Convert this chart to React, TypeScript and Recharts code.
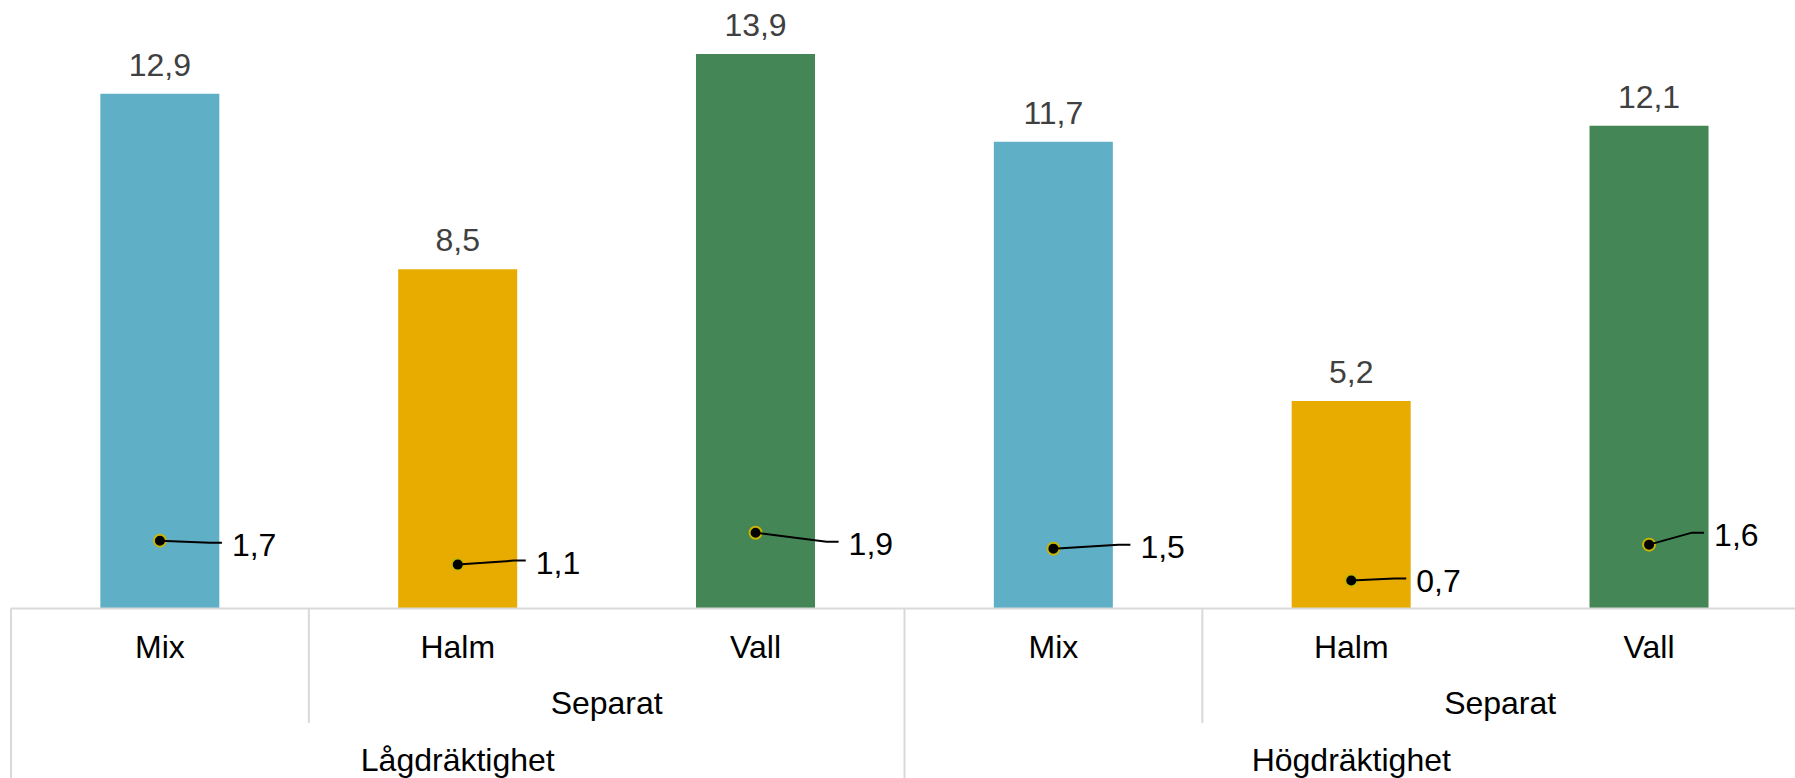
import { ComposedChart, Bar, Line, XAxis, YAxis, Cell, LabelList } from 'recharts'

const CATEGORIES = ['Mix', 'Halm', 'Vall', 'Mix', 'Halm', 'Vall']
const SUBGROUPS = ['', 'Separat', 'Separat', '', 'Separat', 'Separat']
const GROUPS = [
  'Lågdräktighet',
  'Lågdräktighet',
  'Lågdräktighet',
  'Högdräktighet',
  'Högdräktighet',
  'Högdräktighet',
]
const BAR_VALUES = [12.9, 8.5, 13.9, 11.7, 5.2, 12.1]
const POINT_VALUES = [1.7, 1.1, 1.9, 1.5, 0.7, 1.6]

const FEED_COLOR: Record<string, string> = {
  Mix: '#5FAFC6',
  Halm: '#E8AC00',
  Vall: '#448655',
}

// end of each point's leader line, relative to the dot
const LABEL_NUDGE: [number, number][] = [
  [62, 2],
  [68, -4],
  [83, 9],
  [77, -4],
  [55, -2],
  [55, -12],
]

const FONT = '"Liberation Sans", Arial, sans-serif'
const AXIS_HEIGHT = 169.5
const ROW_1 = 38.4
const ROW_2 = 94.7
const ROW_3 = 151.7
const SUB_BOTTOM = 114.4
const GRID = '#D9D9D9'

const rows = CATEGORIES.map((name, i) => ({
  name,
  amount: BAR_VALUES[i],
  point: POINT_VALUES[i],
}))

const fmt = (v: number) => Number(v).toFixed(1).replace('.', ',')

// how many neighbouring columns share the same label (within one group)
function spanLength(list: string[], i: number) {
  let n = 1
  while (i + n < list.length && list[i + n] === list[i] && GROUPS[i + n] === GROUPS[i]) n++
  return n
}

function CategoryTick(props: any) {
  const { x, y, payload } = props
  const i: number = props.index ?? payload.index
  const half: number = payload.offset
  const left = x - half
  const newGroup = i === 0 || GROUPS[i] !== GROUPS[i - 1]
  const newSub = newGroup || SUBGROUPS[i] !== SUBGROUPS[i - 1]
  const isLast = i === CATEGORIES.length - 1

  const subSpan = spanLength(SUBGROUPS, i)
  const groupSpan = spanLength(GROUPS, i)

  return (
    <g fontFamily={FONT} fontSize={32} fill="#000">
      {newGroup && <line x1={left} x2={left} y1={y} y2={y + AXIS_HEIGHT} stroke={GRID} strokeWidth={2} />}
      {!newGroup && newSub && (
        <line x1={left} x2={left} y1={y} y2={y + SUB_BOTTOM} stroke={GRID} strokeWidth={2} />
      )}
      {isLast && (
        <line x1={x + half} x2={x + half} y1={y} y2={y + AXIS_HEIGHT} stroke={GRID} strokeWidth={2} />
      )}
      <text x={x} y={y + ROW_1} textAnchor="middle" dominantBaseline="central">
        {CATEGORIES[i]}
      </text>
      {newSub && SUBGROUPS[i] && (
        <text x={x + (subSpan - 1) * half} y={y + ROW_2} textAnchor="middle" dominantBaseline="central">
          {SUBGROUPS[i]}
        </text>
      )}
      {newGroup && (
        <text x={x + (groupSpan - 1) * half} y={y + ROW_3} textAnchor="middle" dominantBaseline="central">
          {GROUPS[i]}
        </text>
      )}
    </g>
  )
}

function PointDot(props: any) {
  const { cx, cy, index } = props
  return <circle key={`dot-${index}`} cx={cx} cy={cy} r={6} fill="#000" stroke="#C9B400" strokeWidth={2} />
}

function LeaderLabel(props: any) {
  const { x, y, value, index } = props
  const [dx, dy] = LABEL_NUDGE[index] ?? [60, 0]
  return (
    <g>
      <polyline
        points={`${x},${y} ${x + dx - 12},${y + dy} ${x + dx},${y + dy}`}
        fill="none"
        stroke="#000"
        strokeWidth={2}
      />
      <text
        x={x + dx + 10}
        y={y + dy + 2}
        dominantBaseline="central"
        fontSize={32}
        fontFamily={FONT}
        fill="#000"
      >
        {fmt(value)}
      </text>
    </g>
  )
}

export default function App() {
  return (
    <div
      style={{
        position: 'absolute',
        left: 0,
        top: 0,
        width: 1795,
        height: 778,
        overflow: 'hidden',
        background: '#fff',
      }}
    >
      <ComposedChart
        width={1798}
        height={778}
        data={rows}
        margin={{ top: 10, right: 0, bottom: 0, left: 11 }}
        barCategoryGap="30%"
      >
        <XAxis
          dataKey="name"
          interval={0}
          height={AXIS_HEIGHT}
          tickLine={false}
          tickSize={0}
          tickMargin={0}
          axisLine={{ stroke: GRID, strokeWidth: 2 }}
          tick={<CategoryTick />}
        />
        <YAxis hide domain={[0, 15]} />
        <Bar dataKey="amount" isAnimationActive={false}>
          {rows.map((r, i) => (
            <Cell key={i} fill={FEED_COLOR[r.name]} />
          ))}
          <LabelList
            dataKey="amount"
            position="top"
            offset={18}
            formatter={(v: any) => fmt(v)}
            style={{ fontSize: 32, fontFamily: FONT, fill: '#404040' }}
          />
        </Bar>
        <Line
          dataKey="point"
          stroke="none"
          isAnimationActive={false}
          dot={(p: any) => <PointDot {...p} />}
          activeDot={false}
        >
          <LabelList dataKey="point" content={(p: any) => <LeaderLabel {...p} />} />
        </Line>
      </ComposedChart>
    </div>
  )
}
